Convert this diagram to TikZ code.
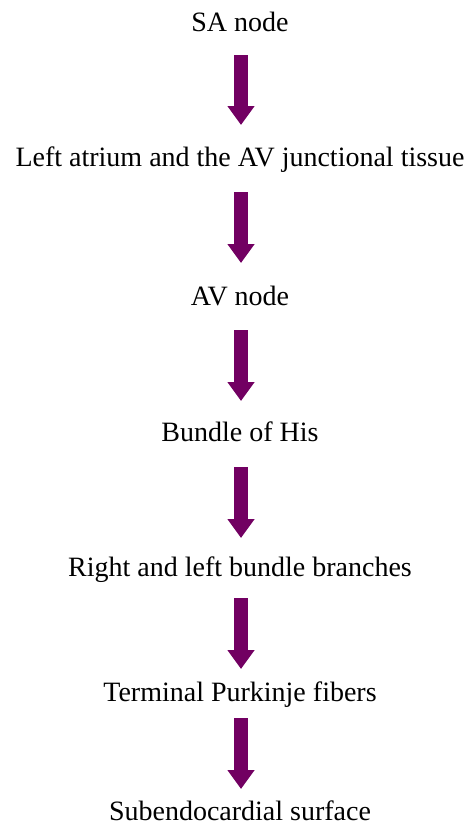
\documentclass[tikz,border=0pt]{standalone}
\usepackage{fontspec}
\setmainfont{Liberation Serif}
\usetikzlibrary{arrows.meta}
\definecolor{flowpurple}{RGB}{114,0,98}
\begin{document}
\begin{tikzpicture}[x=1pt,y=1pt,
  label/.style={anchor=base,inner sep=0pt,font=\fontsize{28}{32}\selectfont},
  flow/.style={draw=flowpurple,line width=14pt,line cap=butt,
    -{Triangle[width=26pt,length=19pt]}}]
\useasboundingbox (0,0) rectangle (471,-825);
\node[label] (sa)   at (240,-31)  {SA node};
\node[label] (la)   at (240,-166) {Left atrium and the AV junctional tissue};
\node[label] (av)   at (240,-305) {AV node};
\node[label] (his)  at (240,-441) {Bundle of His};
\node[label] (bb)   at (240,-576) {Right and left bundle branches};
\node[label] (pk)   at (240,-701) {Terminal Purkinje fibers};
\node[label] (sub)  at (240,-820) {Subendocardial surface};
\draw[flow] ([shift={(1,-24)}]sa.base)  -- ([shift={(1,41)}]la.base);
\draw[flow] ([shift={(1,-26)}]la.base)  -- ([shift={(1,42)}]av.base);
\draw[flow] ([shift={(1,-25)}]av.base)  -- ([shift={(1,40)}]his.base);
\draw[flow] ([shift={(1,-26)}]his.base) -- ([shift={(1,38)}]bb.base);
\draw[flow] ([shift={(1,-22)}]bb.base)  -- ([shift={(1,32)}]pk.base);
\draw[flow] ([shift={(1,-17)}]pk.base)  -- ([shift={(1,31)}]sub.base);
\end{tikzpicture}
\end{document}
